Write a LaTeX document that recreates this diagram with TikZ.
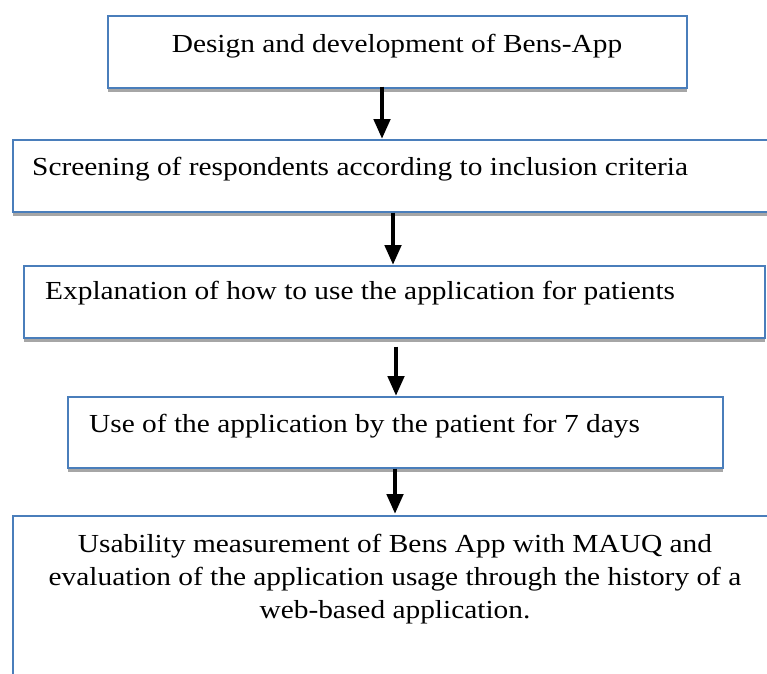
\documentclass[tikz,border=0pt]{standalone}
\usepackage{fontspec}
\setmainfont{Liberation Serif}[FakeStretch=1.13]
\usetikzlibrary{arrows.meta,shadows}
\definecolor{boxblue}{HTML}{4A7EBB}
\definecolor{shadowgray}{HTML}{A6A6A6}
\tikzset{
  flowbox/.style={draw=boxblue, line width=1.6pt, fill=white, inner sep=0pt, anchor=north west,
    general shadow={fill=shadowgray, shadow xshift=0.5pt, shadow yshift=-4.5pt}},
  flowtxt/.style={inner sep=0pt, font=\fontsize{26}{33}\selectfont},
  flowarrow/.style={line width=4.6pt, -{Triangle[length=20pt,width=16pt]}}
}
\begin{document}
\begin{tikzpicture}[x=1pt,y=-1pt]
\useasboundingbox (0,0) rectangle (767,673);
% boxes
\node[flowbox, minimum width=579pt, minimum height=72pt] (b1) at (107,15) {};
\node[flowbox, minimum width=770pt, minimum height=72pt] (b2) at (12,139) {};
\node[flowbox, minimum width=741pt, minimum height=72pt] (b3) at (23,265) {};
\node[flowbox, minimum width=655pt, minimum height=71pt] (b4) at (67,396) {};
\node[flowbox, minimum width=770pt, minimum height=200pt] (b5) at (12,515) {};
% texts
\node[flowtxt, anchor=base] (t1) at (397,52) {Design and development of Bens-App};
\node[flowtxt, anchor=base west] (t2) at (32,175) {Screening of respondents according to inclusion criteria};
\node[flowtxt, anchor=base west] (t3) at (45,299) {Explanation of how to use the application for patients};
\node[flowtxt, anchor=base west] (t4) at (89,432) {Use of the application by the patient for 7 days};
\node[flowtxt, anchor=base, align=center] (t5) at (395,618) {Usability measurement of Bens App with MAUQ and\\evaluation of the application usage through the history of a\\web-based application.};
% arrows
\coordinate (a1) at (382,0);
\coordinate (a2) at (393,0);
\coordinate (a3) at (396,0);
\coordinate (a4) at (395,0);
\draw[flowarrow] ([yshift=2pt]b1.south -| a1) -- (b2.north -| a1);
\draw[flowarrow] (b2.south -| a2) -- (b3.north -| a2);
\draw[flowarrow] ([yshift=-8pt]b3.south -| a3) -- (b4.north -| a3);
\draw[flowarrow] (b4.south -| a4) -- ([yshift=1pt]b5.north -| a4);
\end{tikzpicture}
\end{document}
